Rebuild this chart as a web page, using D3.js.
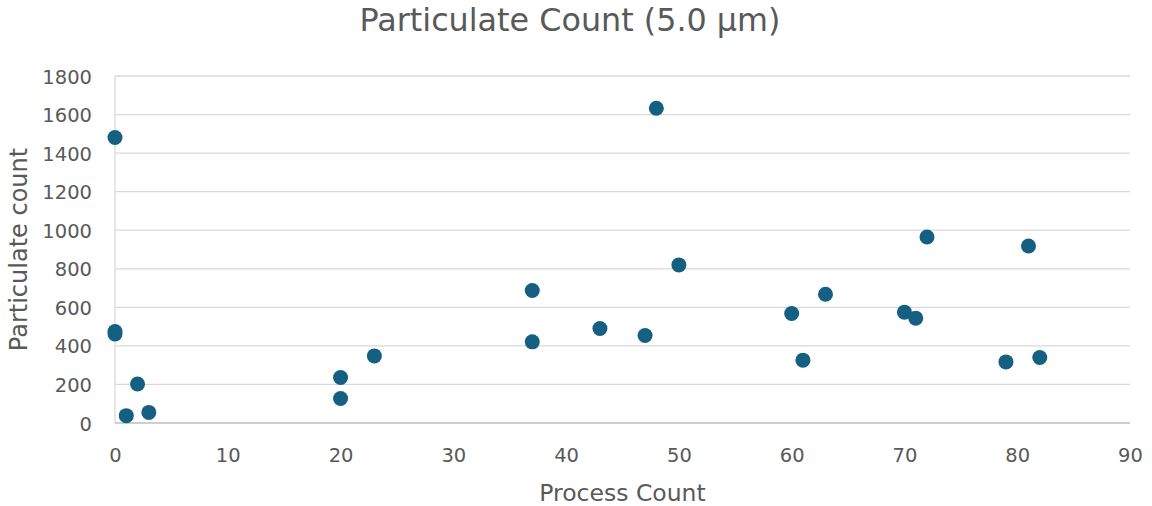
<!DOCTYPE html>
<html>
<head>
<meta charset="utf-8">
<script src="https://cdn.jsdelivr.net/npm/d3@7"></script>
<style>
  body { margin: 0; background: #fff; }
  text { font-family: "DejaVu Sans", sans-serif; fill: #595959; }
</style>
</head>
<body>
<script>
// process count vs particulate count (5.0 um)
var processCount = [0, 0, 0, 1, 2, 3, 20, 20, 23, 37, 37, 43, 47, 48, 50, 60, 61, 63, 70, 71, 72, 79, 81, 82];
var particulate = [1481, 475, 462, 38, 202, 55, 236, 127, 348, 687, 421, 490, 454, 1633, 820, 568, 326, 668, 575, 544, 965, 317, 918, 340];
var xTicks = [0, 10, 20, 30, 40, 50, 60, 70, 80, 90];
var yTicks = [0, 200, 400, 600, 800, 1000, 1200, 1400, 1600, 1800];

var W = 1152, H = 506;
var margin = { top: 76, right: 22, bottom: 83, left: 115 };
var width = W - margin.left - margin.right;
var height = H - margin.top - margin.bottom;

var svg = d3.select("body").append("svg")
    .attr("width", W)
    .attr("height", H);

var g = svg.append("g")
    .attr("transform", "translate(" + margin.left + "," + margin.top + ")");

var x = d3.scaleLinear().domain([0, 90]).range([0, width]);
var y = d3.scaleLinear().domain([0, 1800]).range([height, 0]);

// gridlines
g.append("g").selectAll("line")
    .data(yTicks.filter(function(d) { return d > 0; }))
    .enter().append("line")
    .attr("x1", 0).attr("x2", width)
    .attr("y1", function(d) { return y(d); })
    .attr("y2", function(d) { return y(d); })
    .style("stroke", "#d9d9d9")
    .style("stroke-width", 1.3);

// axis lines
g.append("line")
    .attr("x1", 0).attr("x2", 0).attr("y1", 0).attr("y2", height)
    .style("stroke", "#d9d9d9").style("stroke-width", 1.3);
g.append("line")
    .attr("x1", 0).attr("x2", width).attr("y1", height).attr("y2", height)
    .style("stroke", "#bfbfbf").style("stroke-width", 1.5);

// tick labels
var yAxis = d3.axisLeft(y).tickValues(yTicks).tickFormat(d3.format("d")).tickSize(0).tickPadding(23);
var ya = g.append("g").call(yAxis);
ya.select(".domain").remove();
ya.selectAll("text").style("font-size", "19.5px").attr("dy", "0.36em");

var xAxis = d3.axisBottom(x).tickValues(xTicks).tickSize(0);
var xa = g.append("g").attr("transform", "translate(0," + height + ")").call(xAxis);
xa.select(".domain").remove();
xa.selectAll("text").style("font-size", "19.5px").attr("y", 39).attr("dy", 0);

// points
g.append("g").selectAll("circle")
    .data(processCount)
    .enter().append("circle")
    .attr("cx", function(d) { return x(d); })
    .attr("cy", function(d, i) { return y(particulate[i]); })
    .attr("r", 7.5)
    .style("fill", "#156082");

// titles
svg.append("text")
    .attr("x", 570).attr("y", 31)
    .attr("text-anchor", "middle")
    .style("font-size", "31.8px")
    .text("Particulate Count (5.0 µm)");

svg.append("text")
    .attr("x", margin.left + width / 2).attr("y", 501)
    .attr("text-anchor", "middle")
    .style("font-size", "23.5px")
    .text("Process Count");

svg.append("text")
    .attr("transform", "translate(27," + (margin.top + height / 2) + ") rotate(-90)")
    .attr("text-anchor", "middle")
    .style("font-size", "24px")
    .text("Particulate count");
</script>
</body>
</html>
